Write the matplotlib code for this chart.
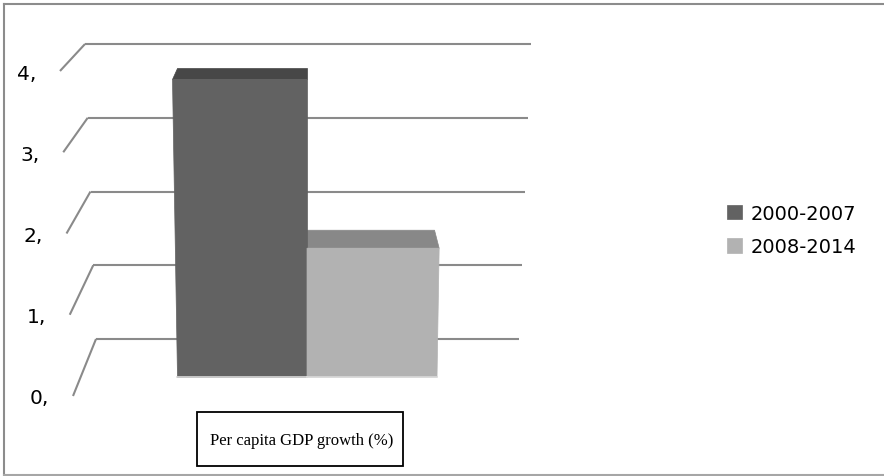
import numpy as np
import matplotlib
matplotlib.use("Agg")
import matplotlib.pyplot as plt
from matplotlib.patches import Rectangle, Polygon

# data
periods = ["2000-2007", "2008-2014"]
growth = [3.7, 1.6]
tick_values = [0, 1, 2, 3, 4]
tick_labels = ["0,", "1,", "2,", "3,", "4,"]
title = "Per capita GDP growth (%)"

front_colors = ["#626262", "#b2b2b2"]
top_colors = ["#474747", "#888888"]
grid_color = "#8a8a8a"

W, H = 884, 477
fig = plt.figure(figsize=(W / 100, H / 100), dpi=100)

# ---- back wall: value axis (0 at y=340 px, 73.75 px per unit) ----
wall = fig.add_axes([0, 0, 1, 1])
wall.set_xlim(0, W)
wall.set_ylim((340 - H) / 73.75, 340 / 73.75)
wall.axis("off")

for v, lab in zip(tick_values, tick_labels):
    x0 = 96 - 2.75 * v
    x1 = 519 + 3.0 * v
    wall.plot([x0, x1], [v, v], color=grid_color, lw=1.5, solid_capstyle="butt")
    # side wall diagonal going to the front-left
    end_x = 73 - 3.25 * v
    end_v = (-57 + 81.25 * v) / 73.75
    wall.plot([x0, end_x], [v, end_v], color=grid_color, lw=1.5, solid_capstyle="butt")
    wall.text(end_x - 24, end_v, lab, ha="right", va="center_baseline",
              fontsize=14.5, family="DejaVu Sans", color="black")

# ---- front: bars (0 at y=378 px, 80.5 px per unit, 130 px per category) ----
ax = fig.add_axes([0, 0, 1, 1])
ax.patch.set_alpha(0)
ax.set_xlim(0.5 - 307 / 130, 0.5 + (W - 307) / 130)
ax.set_ylim((378 - H) / 80.5, 378 / 80.5)
ax.axis("off")

center = 0.5
taper = 0.0104
handles = []
for i, (v, fc, tc, lab) in enumerate(zip(growth, front_colors, top_colors, periods)):
    xl, xr = i - 0.5, i + 0.5
    xl_t = center + (xl - center) * (1 + taper * v)
    xr_t = center + (xr - center) * (1 + taper * v)
    front = Polygon([(xl, 0), (xr, 0), (xr_t, v), (xl_t, v)], closed=True,
                    fc=fc, ec=fc, lw=0.5, zorder=3, label=lab)
    ax.add_patch(front)
    handles.append(front)
    depth = (23.3 - 3.33 * v) / 80.5
    shrink = 0.965
    xl_b = center + (xl_t - center) * shrink
    xr_b = center + (xr_t - center) * shrink
    top = Polygon([(xl_t, v), (xr_t, v), (xr_b, v + depth), (xl_b, v + depth)],
                  closed=True, fc=tc, ec=tc, lw=0.5, zorder=2)
    ax.add_patch(top)
    ax.plot([xl, xr], [0, 0], color="#d9d9d9", lw=1.2, zorder=4)

fig.legend(handles=handles, labels=periods, loc="center left",
           bbox_to_anchor=(727 / W, 1 - 231 / H), frameon=False,
           prop={"family": "DejaVu Sans", "size": 14},
           handlelength=0.75, handleheight=0.75, handletextpad=0.45,
           labelspacing=0.75, borderpad=0, borderaxespad=0)

# ---- title box ----
fig.patches.append(Rectangle((197 / W, 1 - 467 / H), 206 / W, 54 / H,
                             transform=fig.transFigure, fc="white",
                             ec="black", lw=1.3))
fig.text(210 / W, 1 - 441 / H, title, family="Liberation Serif",
         fontsize=12, va="center", ha="left")

# ---- chart area border (left, top, bottom) ----
bx, by_top, by_bot = 3.5 / W, 1 - 4.5 / H, 1 - 475.5 / H
fig.add_artist(plt.Line2D([bx, bx], [by_bot, by_top], transform=fig.transFigure,
                          color="#8c8c8c", lw=1.5))
fig.add_artist(plt.Line2D([bx, 1], [by_top, by_top], transform=fig.transFigure,
                          color="#8c8c8c", lw=1.5))
fig.add_artist(plt.Line2D([bx, 1], [by_bot, by_bot], transform=fig.transFigure,
                          color="#a6a6a6", lw=1.5))

fig.savefig("out.png", dpi=100)
